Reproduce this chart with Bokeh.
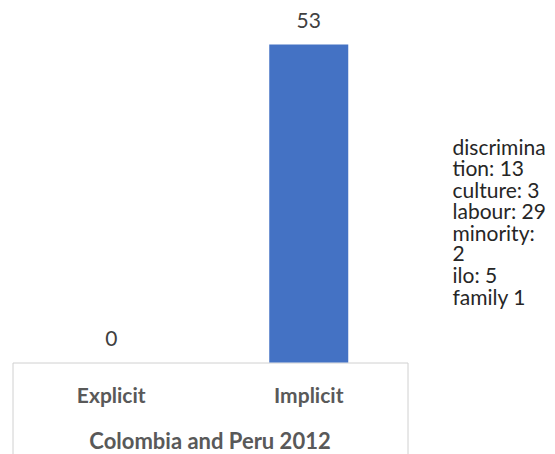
from bokeh.plotting import figure
from bokeh.models import Range1d
from bokeh.core.properties import value
from bokeh.embed import file_html
from bokeh.resources import INLINE

categories = ["Explicit", "Implicit"]
counts = [0, 53]
group_label = "Colombia and Peru 2012"
note_lines = ["discrimina", "tion: 13", "culture: 3", "labour: 29",
              "minority:", "2", "ilo: 5", "family 1"]

FONT = "Lato"
W, H = 555, 454
plot_left, plot_right, plot_top, axis_y = 12, 407, 2, 362  # pixels
y_max = 60

px_x = (plot_right - plot_left) / len(categories)   # pixels per category
px_y = (axis_y - plot_top) / y_max                  # pixels per unit


def dx(px):
    return (px - plot_left) / px_x


def dy(px):
    return (axis_y - px) / px_y


xs = [i + 0.5 for i in range(len(categories))]

p = figure(width=W, height=H, x_range=Range1d(dx(0), dx(W)),
           y_range=Range1d(dy(H), dy(0)), output_backend="svg",
           toolbar_location=None, min_border=0)
p.xaxis.visible = False
p.yaxis.visible = False
p.xgrid.visible = False
p.ygrid.visible = False
p.outline_line_color = None
p.background_fill_color = "white"
p.border_fill_color = "white"

# category box under the bars (offset half a pixel for crisp 1px lines)
bx0, bx1 = dx(plot_left + 0.5), dx(plot_right + 0.5)
by0, by1 = dy(axis_y + 0.5), dy(H + 10)
p.line(x=[bx0, bx0, bx1, bx1], y=[by1, by0, by0, by1],
       line_color="#d0d0d0", line_width=1)

p.vbar(x=xs, top=counts, width=0.4, fill_color="#4472C4", line_color=None)

p.text(x=xs, y=counts, text=[str(c) for c in counts],
       text_align="center", text_baseline="middle", y_offset=-24,
       text_color="#404040", text_font=value(FONT), text_font_size="21px")

p.text(x=xs, y=[0] * len(categories), text=categories,
       text_align="center", text_baseline="middle", y_offset=32,
       text_color="#595959", text_font=value(FONT), text_font_size="21px",
       text_font_style="bold")

p.text(x=[len(categories) / 2], y=[0], text=[group_label],
       text_align="center", text_baseline="middle", y_offset=78,
       text_color="#595959", text_font=value(FONT), text_font_size="22px",
       text_font_style="bold")

p.text(x=[dx(452)] * len(note_lines),
       y=[dy(146 + i * 21.4) for i in range(len(note_lines))],
       text=note_lines, text_align="left", text_baseline="middle",
       text_color="#262626", text_font=value(FONT), text_font_size="21px")

open("out.html", "w").write(file_html(p, INLINE))
